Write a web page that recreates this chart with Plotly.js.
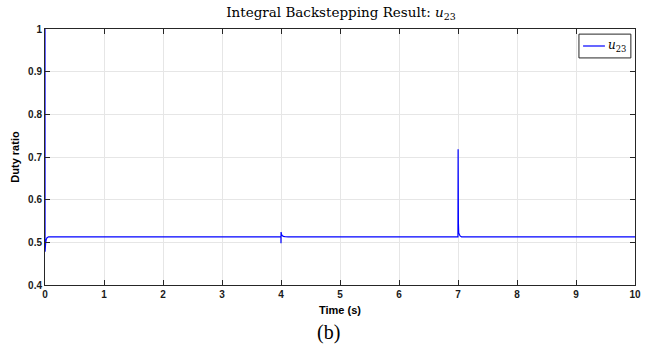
<!DOCTYPE html>
<html>
<head>
<meta charset="utf-8">
<script src="https://cdn.plot.ly/plotly-3.0.1.min.js"></script>
<style>
  html, body { margin: 0; padding: 0; background: #fff; }
  #chart { width: 652px; height: 345px; }
</style>
</head>
<body>
<div id="chart"></div>
<script>
// Control signal u23 from the integral backstepping controller (duty ratio vs time)
const timeS = [0, 0.001, 0.004, 0.01, 0.02, 0.035, 0.06, 0.1,
               3.999, 4.0, 4.001, 4.003, 4.008, 4.02, 4.04, 4.07, 4.12,
               6.999, 7.0, 7.002, 7.004, 7.007, 7.012, 7.02, 7.035, 7.06,
               10];
const dutyU23 = [1.0, 0.478, 0.485, 0.497, 0.506, 0.511, 0.513, 0.513,
                 0.513, 0.498, 0.524, 0.522, 0.519, 0.516, 0.514, 0.5135, 0.513,
                 0.513, 0.513, 0.718, 0.62, 0.545, 0.522, 0.517, 0.515, 0.513,
                 0.513];
const xTicks = [0, 1, 2, 3, 4, 5, 6, 7, 8, 9, 10];
const yTicks = [0.4, 0.5, 0.6, 0.7, 0.8, 0.9, 1];
const yTickText = ['0.4', '0.5', '0.6', '0.7', '0.8', '0.9', '1'];
const seriesLabel = '<i>u</i><sub>23</sub>';

const lineColor = '#0000ff';
const sansFont = 'Liberation Sans, Arial, sans-serif';
const tickFont = { family: sansFont, size: 10, color: '#1a1a1a', weight: 'bold' };

const axisCommon = {
  showline: true,
  linecolor: '#262626',
  linewidth: 1,
  mirror: 'ticks',
  ticks: 'inside',
  ticklen: 5,
  tickcolor: '#262626',
  showgrid: true,
  gridcolor: '#e6e6e6',
  gridwidth: 1,
  zeroline: false,
  tickfont: tickFont
};

const data = [{
  x: timeS,
  y: dutyU23,
  type: 'scatter',
  mode: 'lines',
  name: seriesLabel,
  line: { color: lineColor, width: 1.2 }
}];

// Compact legend box (short line sample) in the top-right corner of the axes
const legendBox = { x0: 0.905, x1: 0.993, y0: 0.887, y1: 0.980 };
const legendRowY = 0.9336;

const layout = {
  width: 652,
  height: 345,
  margin: { l: 45, r: 17, t: 29, b: 60 },
  paper_bgcolor: '#ffffff',
  plot_bgcolor: '#ffffff',
  showlegend: false,
  title: {
    text: 'Integral Backstepping Result: ' + seriesLabel,
    font: { family: 'DejaVu Serif, serif', size: 13.5, color: '#000' },
    x: 0.523, xanchor: 'center',
    y: 0.965, yanchor: 'middle'
  },
  xaxis: Object.assign({}, axisCommon, {
    range: [0, 10],
    tickmode: 'array',
    tickvals: xTicks,
    ticktext: xTicks.map(String),
    title: { text: '<b>Time (s)</b>', font: { family: sansFont, size: 11, color: '#000' }, standoff: 7 }
  }),
  yaxis: Object.assign({}, axisCommon, {
    range: [0.4, 1],
    tickmode: 'array',
    tickvals: yTicks,
    ticktext: yTickText,
    title: { text: '<b>Duty ratio</b>', font: { family: sansFont, size: 11, color: '#000' }, standoff: 6 }
  }),
  shapes: [
    {
      type: 'rect', xref: 'paper', yref: 'paper', layer: 'above',
      x0: legendBox.x0, x1: legendBox.x1, y0: legendBox.y0, y1: legendBox.y1,
      fillcolor: '#ffffff', line: { color: '#262626', width: 1 }
    },
    {
      type: 'line', xref: 'paper', yref: 'paper', layer: 'above',
      x0: 0.912, x1: 0.949, y0: legendRowY, y1: legendRowY,
      line: { color: lineColor, width: 1.2 }
    }
  ],
  annotations: [
    {
      text: seriesLabel,
      xref: 'paper', yref: 'paper',
      x: 0.951, y: legendRowY,
      xanchor: 'left', yanchor: 'middle',
      showarrow: false,
      font: { family: 'DejaVu Serif, serif', size: 12, color: '#000' }
    },
    {
      text: '(b)',
      xref: 'paper', yref: 'paper',
      x: 0.48, y: -0.184,
      xanchor: 'center', yanchor: 'middle',
      showarrow: false,
      font: { family: 'Liberation Serif, Times New Roman, serif', size: 20, color: '#000' }
    }
  ]
};

Plotly.newPlot('chart', data, layout, { displayModeBar: false, staticPlot: true });
</script>
</body>
</html>
